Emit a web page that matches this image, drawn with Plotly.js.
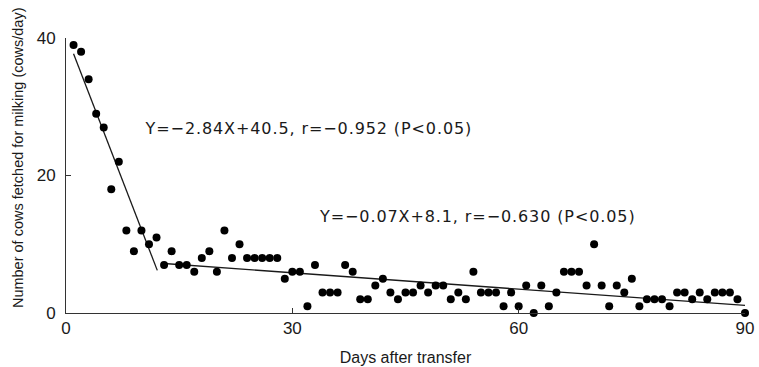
<!DOCTYPE html>
<html>
<head>
<meta charset="utf-8">
<script src="https://cdn.plot.ly/plotly-3.0.1.min.js"></script>
<style>
html,body{margin:0;padding:0;background:#fff;}
#chart{width:759px;height:367px;}
g.annotation[data-index="0"] text, g.annotation[data-index="1"] text{letter-spacing:0.9px;}
</style>
</head>
<body>
<div id="chart"></div>
<script>
// Days after transfer
const days = [];
for (let d = 1; d <= 90; d++) days.push(d);
// Number of cows fetched for milking (cows/day)
const cows = [
  39, 38, 34, 29, 27, 18, 22, 12, 9, 12,
  10, 11, 7, 9, 7, 7, 6, 8, 9, 6,
  12, 8, 10, 8, 8, 8, 8, 8, 5, 6,
  6, 1, 7, 3, 3, 3, 7, 6, 2, 2,
  4, 5, 3, 2, 3, 3, 4, 3, 4, 4,
  2, 3, 2, 6, 3, 3, 3, 1, 3, 1,
  4, 0, 4, 1, 3, 6, 6, 6, 4, 10,
  4, 1, 4, 3, 5, 1, 2, 2, 2, 1,
  3, 3, 2, 3, 2, 3, 3, 3, 2, 0
];
// Regression line segments (as drawn)
const fit1X = [1, 12.1];
const fit1Y = [37.7, 6.2];
const fit2X = [13, 90];
const fit2Y = [7.2, 1.1];
// Text
const eq1 = "Y=\u22122.84X+40.5, r=\u22120.952 (P<0.05)";
const eq2 = "Y=\u22120.07X+8.1, r=\u22120.630 (P<0.05)";
const xTicks = [0, 30, 60, 90];
const yTicks = [0, 20, 40];
const xTitle = "Days after transfer";
const yTitle = "Number of cows fetched for milking (cows/day)";

const ink = "#1a1a1a";
const traces = [
  {x: fit1X, y: fit1Y, mode: "lines", line: {color: ink, width: 1.3}, hoverinfo: "skip", cliponaxis: false},
  {x: fit2X, y: fit2Y, mode: "lines", line: {color: ink, width: 1.3}, hoverinfo: "skip", cliponaxis: false},
  {x: days, y: cows, mode: "markers", marker: {color: "#000", size: 8}, cliponaxis: false}
];

const annFont = {family: "DejaVu Sans, sans-serif", size: 16, color: ink};
const layout = {
  width: 759, height: 367,
  margin: {l: 66, r: 14, t: 38, b: 54, pad: 0},
  paper_bgcolor: "#fff", plot_bgcolor: "#fff",
  showlegend: false,
  font: {family: "Liberation Sans, Arial, sans-serif", color: ink},
  xaxis: {
    range: [0, 90], tickvals: xTicks, ticktext: xTicks.map(String),
    ticks: "inside", ticklen: 5, tickcolor: "#333", tickwidth: 1,
    showline: true, linecolor: "#333", linewidth: 1,
    showgrid: false, zeroline: false,
    tickfont: {size: 17, color: ink},
    title: {text: xTitle, font: {size: 16, color: ink}, standoff: 14},
    automargin: false
  },
  yaxis: {
    range: [0, 40], tickvals: yTicks, ticktext: yTicks.map(String),
    ticks: "inside", ticklen: 5, tickcolor: "#333", tickwidth: 1,
    showline: true, linecolor: "#333", linewidth: 1,
    showgrid: false, zeroline: false,
    tickfont: {size: 17, color: ink},
    ticklabelstandoff: 6,
    automargin: false
  },
  annotations: [
    {x: 12.1, y: 26.8, xref: "x", yref: "y", text: eq1, showarrow: false, xanchor: "left", yanchor: "middle", font: annFont},
    {x: 35.1, y: 14.1, xref: "x", yref: "y", text: eq2, showarrow: false, xanchor: "left", yanchor: "middle", font: annFont},
    {x: -0.0707, y: 0.567, xref: "paper", yref: "paper", text: yTitle, textangle: -90, showarrow: false,
     xanchor: "center", yanchor: "middle", font: {family: "Liberation Sans, Arial, sans-serif", size: 14.5, color: ink}}
  ]
};

Plotly.newPlot("chart", traces, layout, {displayModeBar: false, staticPlot: true});
</script>
</body>
</html>
